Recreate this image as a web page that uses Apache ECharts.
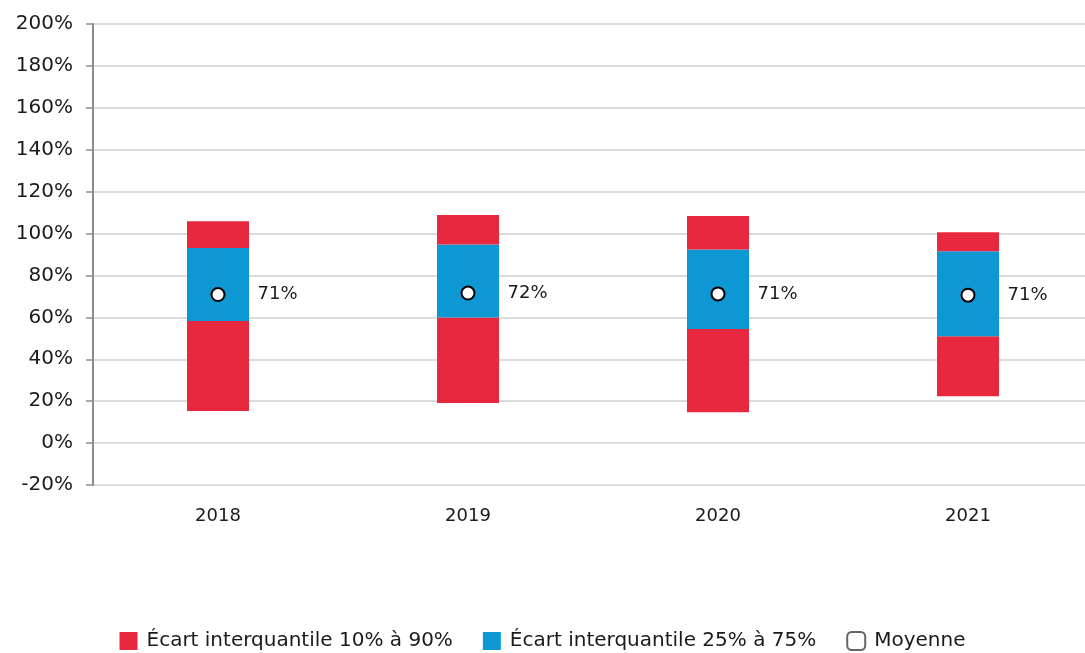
<!DOCTYPE html>
<html>
<head>
<meta charset="utf-8">
<script src="https://cdn.jsdelivr.net/npm/echarts@6/dist/echarts.min.js"></script>
<style>
  html, body { margin: 0; padding: 0; background: #fff; }
  #chart { width: 1085px; height: 653px; }
</style>
</head>
<body>
<div id="chart"></div>
<script>
// données (en %)
var years = ['2018', '2019', '2020', '2021']
var p10 = [15.3, 19.1, 14.7, 22.3]
var p25 = [58.3, 59.9, 54.5, 51.0]
var p75 = [93.1, 94.8, 92.4, 91.6]
var p90 = [105.9, 108.8, 108.4, 100.6]
var moyenne = [70.9, 71.6, 71.2, 70.6]

var RED = '#E8283F', BLUE = '#0E98D3'
var fontFam = '"DejaVu Sans", sans-serif'

// segments empilés
var base = [], basRouge = [], bleu = [], hautRouge = []
years.forEach(function (y, i) {
  base.push(p10[i])
  basRouge.push(+(p25[i] - p10[i]).toFixed(2))
  bleu.push(+(p75[i] - p25[i]).toFixed(2))
  hautRouge.push(+(p90[i] - p75[i]).toFixed(2))
})

var chart = echarts.init(document.getElementById('chart'))
var option = {
  animation: false,
  grid: { left: 93, width: 1000, top: 24, bottom: 168, outerBoundsMode: 'none' },
  legend: {
    top: 626,
    left: 'center',
    itemWidth: 18,
    itemHeight: 18,
    itemGap: 30,
    textStyle: { fontFamily: fontFam, fontSize: 20, color: '#1a1a1a', padding: [0, 0, 0, 4] },
    data: [
      { name: 'Écart interquantile 10% à 90%', icon: 'rect' },
      { name: 'Écart interquantile 25% à 75%', icon: 'rect' },
      { name: 'Moyenne', icon: 'roundRect', itemStyle: { color: '#fff', borderColor: '#666', borderWidth: 2 } }
    ]
  },
  xAxis: {
    type: 'category',
    data: years,
    axisLine: { show: false },
    axisTick: { show: false },
    axisLabel: { color: '#1a1a1a', fontFamily: fontFam, fontSize: 18, margin: 22 }
  },
  yAxis: {
    type: 'value',
    min: -20,
    max: 200,
    interval: 20,
    axisLine: { show: true, lineStyle: { color: '#8c8c8c', width: 2 } },
    axisTick: { show: true, length: 7, lineStyle: { color: '#8c8c8c', width: 1.5 } },
    splitLine: { show: true, lineStyle: { color: '#d0d0d0', width: 1.5 } },
    axisLabel: { color: '#1a1a1a', fontFamily: fontFam, fontSize: 20, margin: 20, formatter: '{value}%' }
  },
  series: [
    {
      name: 'base', type: 'bar', stack: 'q', barWidth: 62, silent: true,
      itemStyle: { color: 'transparent' }, data: base
    },
    {
      name: 'Écart interquantile 10% à 90%', type: 'bar', stack: 'q', barWidth: 62,
      itemStyle: { color: RED }, data: basRouge
    },
    {
      name: 'Écart interquantile 25% à 75%', type: 'bar', stack: 'q', barWidth: 62,
      itemStyle: { color: BLUE }, data: bleu
    },
    {
      name: 'Écart interquantile 10% à 90%', type: 'bar', stack: 'q', barWidth: 62,
      itemStyle: { color: RED }, data: hautRouge
    },
    {
      name: 'Moyenne', type: 'scatter', symbol: 'circle', symbolSize: 13, z: 10,
      itemStyle: { color: '#fff', borderColor: '#000', borderWidth: 2, opacity: 1 },
      label: {
        show: true, position: 'right', distance: 32,
        fontFamily: fontFam, fontSize: 18, color: '#1a1a1a', opacity: 1,
        formatter: function (p) { return Math.round(p.value) + '%' }
      },
      data: moyenne
    }
  ]
}
chart.setOption(option)
</script>
</body>
</html>
